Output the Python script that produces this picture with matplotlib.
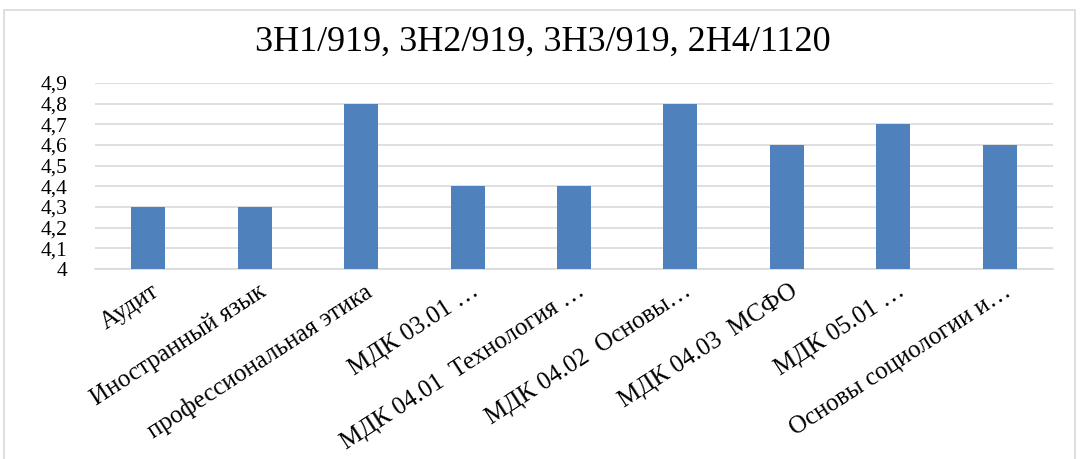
import matplotlib
matplotlib.use("Agg")
import matplotlib.pyplot as plt
from matplotlib.patches import Rectangle
from matplotlib.ticker import FuncFormatter

categories = ["Аудит", "Иностранный язык", "профессиональная этика",
              "МДК 03.01 …", "МДК 04.01  Технология …", "МДК 04.02  Основы…",
              "МДК 04.03  МСФО", "МДК 05.01 …", "Основы социологии и…"]
values = [4.3, 4.3, 4.8, 4.4, 4.4, 4.8, 4.6, 4.7, 4.6]
yticks = [4.0, 4.1, 4.2, 4.3, 4.4, 4.5, 4.6, 4.7, 4.8, 4.9]
title = "3Н1/919, 3Н2/919, 3Н3/919, 2Н4/1120"

plt.rcParams['font.family'] = ['Liberation Serif', 'DejaVu Serif']

fig = plt.figure(figsize=(10.86, 4.59), dpi=100)
W, H = 1086, 459
ax = fig.add_axes([95 / W, 1 - 269 / H, (1053 - 95) / W, (269 - 83) / H])

x = list(range(len(categories)))
ax.bar(x, values, width=0.32, color="#4f81bd", zorder=3)
ax.set_ylim(4.0, 4.9)
ax.set_xlim(-0.5, len(categories) - 0.5)
ax.set_yticks(yticks)
ax.yaxis.set_major_formatter(FuncFormatter(lambda v, p: "4" if abs(v - 4) < 1e-9 else f"{v:.1f}".replace(".", ",")))
ax.grid(axis="y", color="#d9d9d9", linewidth=1.2, zorder=0)
for s in ["top", "right", "left"]:
    ax.spines[s].set_visible(False)
ax.spines["bottom"].set_color("#d9d9d9")
ax.spines["bottom"].set_linewidth(1.2)
ax.tick_params(axis="both", length=0, colors="black")
ax.tick_params(axis="y", pad=20, labelsize=15.5)
ax.set_xticks(x)
ax.set_xticklabels(categories, rotation=33, ha="right", va="top",
                   rotation_mode="anchor", fontsize=18)
ax.tick_params(axis="x", pad=8)
for lbl in ax.get_xticklabels():
    lbl.set_transform(lbl.get_transform() + matplotlib.transforms.ScaledTranslation(3 / 100, 0, fig.dpi_scale_trans))

fig.text(0.5, 1 - 42 / H, title, ha="center", va="center", fontsize=26)

fig.patches.append(Rectangle((4 / W, -0.1), (1075 - 4) / W, 1 - 10 / H + 0.1,
                             transform=fig.transFigure, fill=False,
                             edgecolor="#d9d9d9", linewidth=1.2))

fig.savefig("out.png", dpi=100)
